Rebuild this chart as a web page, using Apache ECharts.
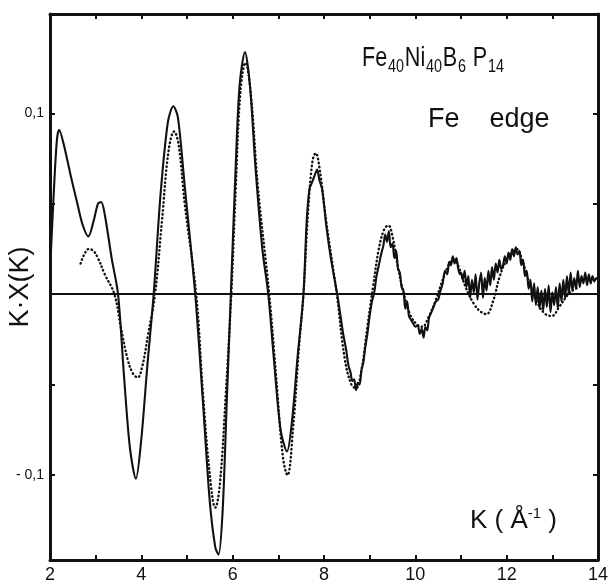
<!DOCTYPE html>
<html>
<head>
<meta charset="utf-8">
<script src="https://cdn.jsdelivr.net/npm/echarts@6/dist/echarts.min.js"></script>
<style>
  html, body { margin: 0; padding: 0; background: #fff; }
  #chart { width: 616px; height: 585px; }
</style>
</head>
<body>
<div id="chart"></div>
<script>
// measured curve K·X(K)
const solidCurve = [
  [2.0, 0.012], [2.08, 0.055], [2.15, 0.085], [2.2, 0.091], [2.3, 0.083], [2.45, 0.066],
  [2.6, 0.050], [2.72, 0.038], [2.84, 0.032], [2.95, 0.040], [3.05, 0.050], [3.12, 0.051],
  [3.2, 0.044], [3.35, 0.020], [3.49, 0.0], [3.62, -0.045], [3.75, -0.085], [3.88, -0.102],
  [4.0, -0.080], [4.13, -0.040], [4.27, 0.0], [4.42, 0.055], [4.58, 0.095], [4.7, 0.104],
  [4.8, 0.098], [4.95, 0.060], [5.18, 0.0], [5.35, -0.060], [5.5, -0.115], [5.62, -0.140],
  [5.69, -0.144], [5.78, -0.120], [5.87, -0.060], [5.96, 0.0], [6.05, 0.060], [6.15, 0.115],
  [6.27, 0.134], [6.38, 0.115], [6.5, 0.070], [6.65, 0.025], [6.78, 0.0], [6.9, -0.035],
  [7.05, -0.075], [7.19, -0.087], [7.3, -0.070], [7.42, -0.035], [7.55, 0.0], [7.62, 0.040],
  [7.68, 0.058], [7.74, 0.062], [7.8, 0.066], [7.85, 0.069], [7.9, 0.063], [7.96, 0.058],
  [8.05, 0.038], [8.15, 0.020], [8.29, 0.0], [8.35, -0.010], [8.42, -0.022], [8.48, -0.030],
  [8.54, -0.040], [8.58, -0.043], [8.62, -0.048], [8.66, -0.047], [8.7, -0.053], [8.74, -0.049],
  [8.78, -0.050], [8.82, -0.042], [8.86, -0.038], [8.9, -0.030], [8.95, -0.022], [9.0, -0.012],
  [9.05, -0.004], [9.1, 0.001], [9.15, 0.010], [9.2, 0.016], [9.25, 0.022], [9.3, 0.027],
  [9.34, 0.033], [9.38, 0.029], [9.42, 0.035], [9.46, 0.026], [9.5, 0.028], [9.54, 0.020],
  [9.58, 0.024], [9.62, 0.014], [9.66, 0.012], [9.7, 0.004], [9.74, 0.002], [9.78, -0.008],
  [9.82, -0.004], [9.86, -0.012], [9.9, -0.014], [9.95, -0.016], [10.0, -0.018], [10.05, -0.017],
  [10.1, -0.022], [10.14, -0.019], [10.18, -0.024], [10.22, -0.018], [10.26, -0.020], [10.3, -0.013],
  [10.35, -0.010], [10.4, -0.007], [10.45, -0.004], [10.5, -0.003], [10.55, 0.002], [10.6, 0.006],
  [10.65, 0.013], [10.7, 0.011], [10.74, 0.018], [10.78, 0.016], [10.82, 0.021], [10.86, 0.017],
  [10.9, 0.020], [10.94, 0.014], [10.98, 0.011], [11.0, 0.012], [11.04, 0.008], [11.08, 0.013],
  [11.12, 0.004], [11.16, 0.010], [11.2, -0.002], [11.24, 0.008], [11.28, 0.001], [11.32, 0.011],
  [11.36, -0.003], [11.4, 0.006], [11.44, 0.012], [11.48, -0.002], [11.52, 0.009], [11.56, 0.002],
  [11.6, 0.013], [11.64, 0.005], [11.68, 0.015], [11.72, 0.008], [11.76, 0.017], [11.8, 0.012],
  [11.84, 0.019], [11.88, 0.014], [11.92, 0.016], [11.96, 0.021], [12.0, 0.017], [12.04, 0.023],
  [12.08, 0.019], [12.12, 0.025], [12.16, 0.021], [12.2, 0.026], [12.24, 0.022], [12.28, 0.024],
  [12.32, 0.016], [12.36, 0.019], [12.4, 0.010], [12.44, 0.013], [12.48, 0.003], [12.52, 0.008],
  [12.56, -0.004], [12.6, 0.006], [12.64, -0.006], [12.68, 0.004], [12.72, -0.008], [12.76, 0.002],
  [12.8, -0.009], [12.84, 0.003], [12.88, -0.007], [12.92, 0.005], [12.96, -0.010], [13.0, 0.001],
  [13.04, -0.006], [13.08, 0.004], [13.12, -0.008], [13.16, 0.006], [13.2, -0.004], [13.24, 0.008],
  [13.28, -0.002], [13.32, 0.010], [13.36, 0.0], [13.4, 0.012], [13.44, 0.002], [13.48, 0.009],
  [13.52, 0.003], [13.56, 0.013], [13.6, 0.004], [13.64, 0.010], [13.68, 0.006], [13.72, 0.012],
  [13.76, 0.005], [13.8, 0.011], [13.84, 0.006], [13.88, 0.010], [13.92, 0.007], [13.96, 0.009],
  [14.0, 0.008]
];

// calculated curve (dotted)
const dottedCurve = [
  [2.67, 0.017], [2.75, 0.022], [2.85, 0.025], [2.95, 0.024], [3.05, 0.020], [3.2, 0.011],
  [3.41, 0.0], [3.55, -0.018], [3.7, -0.036], [3.82, -0.044], [3.92, -0.046], [4.02, -0.040],
  [4.15, -0.022], [4.3, 0.0], [4.45, 0.040], [4.6, 0.080], [4.72, 0.090], [4.82, 0.082],
  [4.95, 0.050], [5.2, 0.0], [5.35, -0.055], [5.5, -0.100], [5.62, -0.118], [5.72, -0.105],
  [5.85, -0.055], [5.97, 0.0], [6.07, 0.060], [6.17, 0.112], [6.28, 0.128], [6.4, 0.110],
  [6.55, 0.060], [6.8, 0.0], [6.95, -0.045], [7.1, -0.090], [7.2, -0.100], [7.32, -0.075],
  [7.45, -0.030], [7.55, 0.0], [7.65, 0.045], [7.75, 0.074], [7.82, 0.078], [7.9, 0.070],
  [8.05, 0.040], [8.28, 0.0], [8.45, -0.035], [8.6, -0.050], [8.7, -0.052], [8.82, -0.042],
  [8.95, -0.018], [9.08, 0.005], [9.2, 0.025], [9.32, 0.036], [9.41, 0.038], [9.5, 0.032],
  [9.62, 0.015], [9.75, 0.0], [9.9, -0.012], [10.05, -0.017], [10.15, -0.018], [10.3, -0.012],
  [10.45, -0.003], [10.6, 0.008], [10.75, 0.017], [10.85, 0.019], [10.95, 0.015], [11.1, 0.004],
  [11.3, -0.006], [11.45, -0.010], [11.56, -0.011], [11.7, -0.004], [11.85, 0.010], [12.0, 0.019],
  [12.15, 0.024], [12.22, 0.025], [12.35, 0.018], [12.5, 0.006], [12.7, -0.006], [12.85, -0.011],
  [12.99, -0.012], [13.15, -0.007], [13.35, 0.0], [13.5, 0.003], [13.6, 0.004]
];

const xTickLabels = ['2', '4', '6', '8', '10', '12', '14'];
const yTickValues = [-0.1, 0.1];
const yTickLabels = ['- 0,1', '0,1'];

const font = "'Liberation Sans', Arial, sans-serif";
const ink = '#111';

let myChart = echarts.init(document.getElementById('chart'));

let option = {
  animation: false,
  backgroundColor: '#fff',
  grid: {
    left: 50,
    right: 18,
    top: 14,
    bottom: 25,
    containLabel: false,
    outerBoundsMode: 'none',
  },
  xAxis: [
    {
      type: 'value',
      min: 2,
      max: 14,
      interval: 1,
      axisLine: { onZero: false, lineStyle: { color: ink, width: 3 } },
      axisTick: { inside: true, length: 5, lineStyle: { color: ink, width: 2 } },
      splitLine: { show: false },
      axisLabel: {
        color: ink,
        fontFamily: font,
        fontSize: 18,
        margin: 6,
        formatter: (v) => (xTickLabels.indexOf(String(v)) >= 0 ? String(v) : ''),
      },
    },
    {
      type: 'value',
      position: 'top',
      min: 2,
      max: 14,
      interval: 1,
      axisLine: { onZero: false, lineStyle: { color: ink, width: 3 } },
      axisTick: { inside: true, length: 5, lineStyle: { color: ink, width: 2 } },
      axisLabel: { show: false },
      splitLine: { show: false },
    },
  ],
  yAxis: [
    {
      type: 'value',
      min: -0.147,
      max: 0.155,
      axisLine: { onZero: false, lineStyle: { color: ink, width: 3 } },
      axisTick: {
        inside: true,
        length: 5,
        customValues: [-0.1, -0.05, 0, 0.05, 0.1],
        lineStyle: { color: ink, width: 2 },
      },
      axisLabel: {
        customValues: yTickValues,
        color: ink,
        fontFamily: font,
        fontSize: 14,
        margin: 6,
        formatter: (v) => yTickLabels[yTickValues.indexOf(v)] || '',
      },
      splitLine: { show: false },
      name: 'K·X(K)',
      nameLocation: 'middle',
      nameGap: 16,
      nameMoveOverlap: false,
      nameTextStyle: { color: ink, fontFamily: font, fontSize: 27 },
    },
    {
      type: 'value',
      position: 'right',
      min: -0.147,
      max: 0.155,
      axisLine: { onZero: false, lineStyle: { color: ink, width: 3 } },
      axisTick: {
        inside: true,
        length: 5,
        customValues: [-0.1, -0.05, 0, 0.05, 0.1],
        lineStyle: { color: ink, width: 2 },
      },
      axisLabel: { show: false },
      splitLine: { show: false },
    },
  ],
  graphic: [
    {
      type: 'text',
      x: 362,
      y: 42,
      scaleX: 0.8,
      style: {
        text: 'Fe{s|40}Ni{s|40}B{s|6} P{s|14}',
        fill: ink,
        font: '27px ' + font,
        rich: {
          s: { fontSize: 18, fontFamily: font, fill: ink, padding: [16, 1, 0, 1] },
        },
      },
    },
    {
      type: 'text',
      x: 428,
      y: 106,
      style: { text: 'Fe    edge', fill: ink, font: '27px ' + font },
    },
    {
      type: 'text',
      x: 470,
      y: 506,
      style: {
        text: 'K ( Å{p|-1} )',
        fill: ink,
        font: '26px ' + font,
        rich: {
          p: { fontSize: 15, fontFamily: font, fill: ink, padding: [0, 0, 14, 0] },
        },
      },
    },
  ],
  series: [
    {
      name: 'measured',
      type: 'line',
      data: solidCurve,
      smooth: 0.3,
      showSymbol: false,
      lineStyle: { color: ink, width: 2.1 },
      markLine: {
        silent: true,
        symbol: 'none',
        label: { show: false },
        lineStyle: { color: ink, width: 2.2, type: 'solid' },
        data: [{ yAxis: 0 }],
      },
    },
    {
      name: 'calculated',
      type: 'line',
      data: dottedCurve,
      smooth: 0.4,
      showSymbol: false,
      lineStyle: { color: ink, width: 2.4, type: [0.5, 3.5], cap: 'round' },
    },
  ],
};

myChart.setOption(option);
</script>
</body>
</html>
